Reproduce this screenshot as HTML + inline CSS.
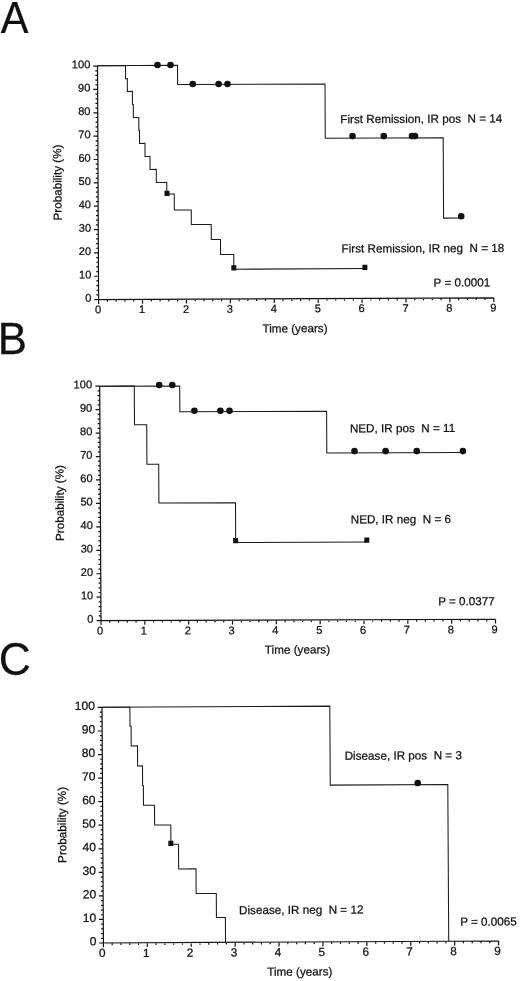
<!DOCTYPE html>
<html lang="en">
<head>
<meta charset="utf-8">
<title>Kaplan-Meier probability curves</title>
<style>
html,body{margin:0;padding:0;background:#fff;}
body{width:520px;height:981px;overflow:hidden;}
svg{display:block;font-family:"Liberation Sans", Arial, Helvetica, sans-serif;fill:#111;}
text{stroke:#111;stroke-width:0.25px;}
.big{font-size:43.5px;stroke-width:1.3px;}
.tk{font-size:11.1px;}
.ttl{font-size:11.7px;}
.lb{font-size:11.7px;}
</style>
</head>
<body>
<svg width="520" height="981" viewBox="0 0 520 981">
<rect x="0" y="0" width="520" height="981" fill="#fff"/>
<g class="big">
<text transform="translate(0.75,32.6) scale(0.955,1)">A</text>
<text transform="translate(-2.22,353.5) scale(1.006,1.006)">B</text>
<text transform="translate(-1.34,675.2) scale(1.024,1.069)">C</text>
</g>
<g transform="matrix(1,-0.00455,0.0047,1,98.6,299.6)">
<path d="M0,-233.5V0M-4.3,0H395.2M-2.2,-4.67H0M-2.2,-9.34H0M-2.2,-14.01H0M-2.2,-18.68H0M-4.3,-23.35H0M-2.2,-28.02H0M-2.2,-32.69H0M-2.2,-37.36H0M-2.2,-42.03H0M-4.3,-46.7H0M-2.2,-51.37H0M-2.2,-56.04H0M-2.2,-60.71H0M-2.2,-65.38H0M-4.3,-70.05H0M-2.2,-74.72H0M-2.2,-79.39H0M-2.2,-84.06H0M-2.2,-88.73H0M-4.3,-93.4H0M-2.2,-98.07H0M-2.2,-102.74H0M-2.2,-107.41H0M-2.2,-112.08H0M-4.3,-116.75H0M-2.2,-121.42H0M-2.2,-126.09H0M-2.2,-130.76H0M-2.2,-135.43H0M-4.3,-140.1H0M-2.2,-144.77H0M-2.2,-149.44H0M-2.2,-154.11H0M-2.2,-158.78H0M-4.3,-163.45H0M-2.2,-168.12H0M-2.2,-172.79H0M-2.2,-177.46H0M-2.2,-182.13H0M-4.3,-186.8H0M-2.2,-191.47H0M-2.2,-196.14H0M-2.2,-200.81H0M-2.2,-205.48H0M-4.3,-210.15H0M-2.2,-214.82H0M-2.2,-219.49H0M-2.2,-224.16H0M-2.2,-228.83H0M-4.3,-233.5H0M0,0V4.3M8.78,0V2.2M17.56,0V2.2M26.35,0V2.2M35.13,0V2.2M43.91,0V4.3M52.69,0V2.2M61.48,0V2.2M70.26,0V2.2M79.04,0V2.2M87.82,0V4.3M96.6,0V2.2M105.39,0V2.2M114.17,0V2.2M122.95,0V2.2M131.73,0V4.3M140.52,0V2.2M149.3,0V2.2M158.08,0V2.2M166.86,0V2.2M175.64,0V4.3M184.43,0V2.2M193.21,0V2.2M201.99,0V2.2M210.77,0V2.2M219.56,0V4.3M228.34,0V2.2M237.12,0V2.2M245.9,0V2.2M254.68,0V2.2M263.47,0V4.3M272.25,0V2.2M281.03,0V2.2M289.81,0V2.2M298.6,0V2.2M307.38,0V4.3M316.16,0V2.2M324.94,0V2.2M333.72,0V2.2M342.51,0V2.2M351.29,0V4.3M360.07,0V2.2M368.85,0V2.2M377.64,0V2.2M386.42,0V2.2M395.2,0V4.3" fill="none" stroke="#111" stroke-width="1.2"/>
<g font-size="11.1" text-anchor="end">
<text x="-7.2" y="2.1">0</text>
<text x="-7.2" y="-21.25">10</text>
<text x="-7.2" y="-44.6">20</text>
<text x="-7.2" y="-67.95">30</text>
<text x="-7.2" y="-91.3">40</text>
<text x="-7.2" y="-114.65">50</text>
<text x="-7.2" y="-138">60</text>
<text x="-7.2" y="-161.35">70</text>
<text x="-7.2" y="-184.7">80</text>
<text x="-7.2" y="-208.05">90</text>
<text x="-7.2" y="-231.4">100</text>
</g>
<g font-size="11.1" text-anchor="middle">
<text x="-0.5" y="13.7">0</text>
<text x="43.41" y="13.7">1</text>
<text x="87.32" y="13.7">2</text>
<text x="131.23" y="13.7">3</text>
<text x="175.14" y="13.7">4</text>
<text x="219.06" y="13.7">5</text>
<text x="262.97" y="13.7">6</text>
<text x="306.88" y="13.7">7</text>
<text x="350.79" y="13.7">8</text>
<text x="394.7" y="13.7">9</text>
</g>
<text x="163.7" y="33.7" class="ttl">Time (years)</text>
<text transform="translate(-36.6,-117.25) rotate(-90)" text-anchor="middle" class="ttl">Probability (%)</text>
<path d="M0,-233.9H28V-220.87H29.74V-208.06H34.78V-194.94H35.62V-181.94H41.05V-168.91H41.69V-156.01H47.13V-142.79H52.07V-129.96H58.26V-116.84H68.7V-105.29H76.14V-89.25H93.07V-74.68H113V-59.59H122.18V-44.54H135.36V-29.78H268.44" fill="none" stroke="#1a1a1a" stroke-width="1.05"/>
<rect x="66.4" y="-108.64" width="5.0" height="5.3"/><rect x="132.85" y="-33.73" width="5.0" height="5.3"/><rect x="263.95" y="-33.64" width="5.0" height="5.3"/>
<path d="M0,-233.9H80V-214.64H227.41V-160.37H345.35V-79.93H362.78" fill="none" stroke="#1a1a1a" stroke-width="1.05"/>
<circle cx="60" cy="-234.33" r="3.3"/><circle cx="73" cy="-234.27" r="3.3"/><circle cx="95.16" cy="-215.17" r="3.3"/><circle cx="121.01" cy="-215.05" r="3.3"/><circle cx="129.91" cy="-215.01" r="3.3"/><circle cx="254.66" cy="-162.34" r="3.3"/><circle cx="285.91" cy="-162.2" r="3.3"/><circle cx="314.16" cy="-162.07" r="3.3"/><circle cx="317.16" cy="-162.06" r="3.3"/><circle cx="363.03" cy="-81.75" r="3.3"/>
<text x="242.52" y="-175.3" class="lb" xml:space="preserve" style="white-space:pre">First Remission, IR pos  N = 14</text>
<text x="243.22" y="-45.89" class="lb" xml:space="preserve" style="white-space:pre">First Remission, IR neg  N = 18</text>
<text x="335.05" y="-11.38" class="lb" xml:space="preserve" style="white-space:pre">P = 0.0001</text>
</g>
<g transform="matrix(1,-0.00345,0.0055,1,101.0,620.6)">
<path d="M0,-234.4V0M-4.3,0H394.5M-2.2,-4.69H0M-2.2,-9.38H0M-2.2,-14.06H0M-2.2,-18.75H0M-4.3,-23.44H0M-2.2,-28.13H0M-2.2,-32.82H0M-2.2,-37.5H0M-2.2,-42.19H0M-4.3,-46.88H0M-2.2,-51.57H0M-2.2,-56.26H0M-2.2,-60.94H0M-2.2,-65.63H0M-4.3,-70.32H0M-2.2,-75.01H0M-2.2,-79.7H0M-2.2,-84.38H0M-2.2,-89.07H0M-4.3,-93.76H0M-2.2,-98.45H0M-2.2,-103.14H0M-2.2,-107.82H0M-2.2,-112.51H0M-4.3,-117.2H0M-2.2,-121.89H0M-2.2,-126.58H0M-2.2,-131.26H0M-2.2,-135.95H0M-4.3,-140.64H0M-2.2,-145.33H0M-2.2,-150.02H0M-2.2,-154.7H0M-2.2,-159.39H0M-4.3,-164.08H0M-2.2,-168.77H0M-2.2,-173.46H0M-2.2,-178.14H0M-2.2,-182.83H0M-4.3,-187.52H0M-2.2,-192.21H0M-2.2,-196.9H0M-2.2,-201.58H0M-2.2,-206.27H0M-4.3,-210.96H0M-2.2,-215.65H0M-2.2,-220.34H0M-2.2,-225.02H0M-2.2,-229.71H0M-4.3,-234.4H0M0,0V4.3M8.77,0V2.2M17.53,0V2.2M26.3,0V2.2M35.07,0V2.2M43.83,0V4.3M52.6,0V2.2M61.37,0V2.2M70.13,0V2.2M78.9,0V2.2M87.67,0V4.3M96.43,0V2.2M105.2,0V2.2M113.97,0V2.2M122.73,0V2.2M131.5,0V4.3M140.27,0V2.2M149.03,0V2.2M157.8,0V2.2M166.57,0V2.2M175.33,0V4.3M184.1,0V2.2M192.87,0V2.2M201.63,0V2.2M210.4,0V2.2M219.17,0V4.3M227.93,0V2.2M236.7,0V2.2M245.47,0V2.2M254.23,0V2.2M263,0V4.3M271.77,0V2.2M280.53,0V2.2M289.3,0V2.2M298.07,0V2.2M306.83,0V4.3M315.6,0V2.2M324.37,0V2.2M333.13,0V2.2M341.9,0V2.2M350.67,0V4.3M359.43,0V2.2M368.2,0V2.2M376.97,0V2.2M385.73,0V2.2M394.5,0V4.3" fill="none" stroke="#111" stroke-width="1.2"/>
<g font-size="11.1" text-anchor="end">
<text x="-7.6" y="2.1">0</text>
<text x="-7.6" y="-21.34">10</text>
<text x="-7.6" y="-44.78">20</text>
<text x="-7.6" y="-68.22">30</text>
<text x="-7.6" y="-91.66">40</text>
<text x="-7.6" y="-115.1">50</text>
<text x="-7.6" y="-138.54">60</text>
<text x="-7.6" y="-161.98">70</text>
<text x="-7.6" y="-185.42">80</text>
<text x="-7.6" y="-208.86">90</text>
<text x="-7.6" y="-232.3">100</text>
</g>
<g font-size="11.1" text-anchor="middle">
<text x="-1" y="14">0</text>
<text x="42.83" y="14">1</text>
<text x="86.67" y="14">2</text>
<text x="130.5" y="14">3</text>
<text x="174.33" y="14">4</text>
<text x="218.17" y="14">5</text>
<text x="262" y="14">6</text>
<text x="305.83" y="14">7</text>
<text x="349.67" y="14">8</text>
<text x="393.5" y="14">9</text>
</g>
<text x="163.7" y="33.7" class="ttl">Time (years)</text>
<text transform="translate(-36.6,-117.7) rotate(-90)" text-anchor="middle" class="ttl">Probability (%)</text>
<path d="M0.09,-234.4H34.59V-195.78H46.78V-156.14H58.56V-117.4H135.14V-77.63H266.42" fill="none" stroke="#1a1a1a" stroke-width="1.05"/>
<rect x="132.54" y="-82.08" width="5.0" height="5.3"/><rect x="263.74" y="-82.13" width="5.0" height="5.3"/>
<path d="M0.09,-234.4H79.99V-208.62H226.74V-166.82H362.91" fill="none" stroke="#1a1a1a" stroke-width="1.05"/>
<circle cx="59.49" cy="-235.39" r="3.3"/><circle cx="72.59" cy="-235.35" r="3.3"/><circle cx="94.55" cy="-209.47" r="3.3"/><circle cx="120.55" cy="-209.38" r="3.3"/><circle cx="129.65" cy="-209.35" r="3.3"/><circle cx="254.43" cy="-168.62" r="3.3"/><circle cx="285.53" cy="-168.51" r="3.3"/><circle cx="316.63" cy="-168.41" r="3.3"/><circle cx="362.83" cy="-168.25" r="3.3"/>
<text x="249.93" y="-187.34" class="lb" xml:space="preserve" style="white-space:pre">NED, IR pos  N = 11</text>
<text x="250.23" y="-96.34" class="lb" xml:space="preserve" style="white-space:pre">NED, IR neg  N = 6</text>
<text x="337.28" y="-14.04" class="lb" xml:space="preserve" style="white-space:pre">P = 0.0377</text>
</g>
<g transform="matrix(1,-0.0051,0.0059,1,103.4,943.0)">
<path d="M0,-235.6V0M-4.3,0H395.2M-2.2,-4.71H0M-2.2,-9.42H0M-2.2,-14.14H0M-2.2,-18.85H0M-4.3,-23.56H0M-2.2,-28.27H0M-2.2,-32.98H0M-2.2,-37.7H0M-2.2,-42.41H0M-4.3,-47.12H0M-2.2,-51.83H0M-2.2,-56.54H0M-2.2,-61.26H0M-2.2,-65.97H0M-4.3,-70.68H0M-2.2,-75.39H0M-2.2,-80.1H0M-2.2,-84.82H0M-2.2,-89.53H0M-4.3,-94.24H0M-2.2,-98.95H0M-2.2,-103.66H0M-2.2,-108.38H0M-2.2,-113.09H0M-4.3,-117.8H0M-2.2,-122.51H0M-2.2,-127.22H0M-2.2,-131.94H0M-2.2,-136.65H0M-4.3,-141.36H0M-2.2,-146.07H0M-2.2,-150.78H0M-2.2,-155.5H0M-2.2,-160.21H0M-4.3,-164.92H0M-2.2,-169.63H0M-2.2,-174.34H0M-2.2,-179.06H0M-2.2,-183.77H0M-4.3,-188.48H0M-2.2,-193.19H0M-2.2,-197.9H0M-2.2,-202.62H0M-2.2,-207.33H0M-4.3,-212.04H0M-2.2,-216.75H0M-2.2,-221.46H0M-2.2,-226.18H0M-2.2,-230.89H0M-4.3,-235.6H0M0,0V4.3M8.78,0V2.2M17.56,0V2.2M26.35,0V2.2M35.13,0V2.2M43.91,0V4.3M52.69,0V2.2M61.48,0V2.2M70.26,0V2.2M79.04,0V2.2M87.82,0V4.3M96.6,0V2.2M105.39,0V2.2M114.17,0V2.2M122.95,0V2.2M131.73,0V4.3M140.52,0V2.2M149.3,0V2.2M158.08,0V2.2M166.86,0V2.2M175.64,0V4.3M184.43,0V2.2M193.21,0V2.2M201.99,0V2.2M210.77,0V2.2M219.56,0V4.3M228.34,0V2.2M237.12,0V2.2M245.9,0V2.2M254.68,0V2.2M263.47,0V4.3M272.25,0V2.2M281.03,0V2.2M289.81,0V2.2M298.6,0V2.2M307.38,0V4.3M316.16,0V2.2M324.94,0V2.2M333.72,0V2.2M342.51,0V2.2M351.29,0V4.3M360.07,0V2.2M368.85,0V2.2M377.64,0V2.2M386.42,0V2.2M395.2,0V4.3" fill="none" stroke="#111" stroke-width="1.2"/>
<g font-size="12.1" text-anchor="end">
<text x="-7.0" y="2.46">0</text>
<text x="-7.0" y="-21.1">10</text>
<text x="-7.0" y="-44.66">20</text>
<text x="-7.0" y="-68.22">30</text>
<text x="-7.0" y="-91.78">40</text>
<text x="-7.0" y="-115.34">50</text>
<text x="-7.0" y="-138.9">60</text>
<text x="-7.0" y="-162.46">70</text>
<text x="-7.0" y="-186.02">80</text>
<text x="-7.0" y="-209.58">90</text>
<text x="-7.0" y="-233.14">100</text>
</g>
<g font-size="11.8" text-anchor="middle">
<text x="-1.2" y="14.1">0</text>
<text x="42.71" y="14.1">1</text>
<text x="86.62" y="14.1">2</text>
<text x="130.53" y="14.1">3</text>
<text x="174.44" y="14.1">4</text>
<text x="218.36" y="14.1">5</text>
<text x="262.27" y="14.1">6</text>
<text x="306.18" y="14.1">7</text>
<text x="350.09" y="14.1">8</text>
<text x="394" y="14.1">9</text>
</g>
<text x="163.7" y="33.7" class="ttl">Time (years)</text>
<text transform="translate(-36.6,-118.3) rotate(-90)" text-anchor="middle" class="ttl">Probability (%)</text>
<path d="M0.09,-235.7H27.89V-216.56H28.98V-196.95H35.26V-176.92H40.14V-157.1H40.93V-137.49H51.91V-117.64H68.09V-98.35H75.68V-73.71H93.03V-48.93H113.19V-24.92H122.15V0.02" fill="none" stroke="#1a1a1a" stroke-width="1.05"/>
<rect x="65.49" y="-102" width="5.0" height="5.3"/>
<path d="M0.09,-235.7H227.78V-156.74H345.32V0.06" fill="none" stroke="#1a1a1a" stroke-width="1.05"/>
<circle cx="315.23" cy="-158.39" r="3.3"/>
<text x="242.37" y="-181.96" class="lb" xml:space="preserve" style="white-space:pre">Disease, IR pos  N = 3</text>
<text x="135.77" y="-28.11" class="lb" xml:space="preserve" style="white-space:pre">Disease, IR neg  N = 12</text>
<text x="356.89" y="-15.38" class="lb" xml:space="preserve" style="white-space:pre">P = 0.0065</text>
</g>
</svg>
</body>
</html>
